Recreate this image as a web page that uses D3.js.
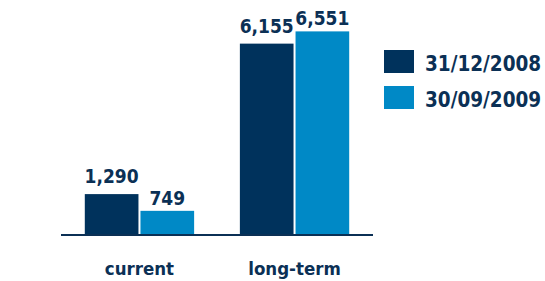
<!DOCTYPE html>
<html>
<head>
<meta charset="utf-8">
<script src="https://cdn.jsdelivr.net/npm/d3@7"></script>
<style>
  body { margin: 0; background: #fff; }
  text { font-family: "DejaVu Sans Condensed", "DejaVu Sans", sans-serif; font-stretch: condensed; font-weight: bold; fill: #0b3055; }
</style>
</head>
<body>
<div id="chart"></div>
<script>
const categories = ['current', 'long-term'];
const seriesNames = ['31/12/2008', '30/09/2009'];
const values2008 = [1290, 6155];
const values2009 = [749, 6551];
const valueLabels2008 = ['1,290', '6,155'];
const valueLabels2009 = ['749', '6,551'];

const width = 545, height = 281;
const colors = ['#00325c', '#0089c6'];
const labelGap = [11, 6];

const svg = d3.select('#chart').append('svg')
    .attr('width', width)
    .attr('height', height);

const x = d3.scaleBand()
    .domain(categories)
    .range([62, 372])
    .paddingInner(0.295)
    .paddingOuter(0.147);

const xs = d3.scaleBand()
    .domain(seriesNames)
    .range([0, x.bandwidth()])
    .paddingInner(0.036);

const y = d3.scaleLinear()
    .domain([0, 7000])
    .range([234, 17.5]);

const rows = categories.map((c, i) => ({
    cat: c,
    vals: [
        {s: seriesNames[0], v: values2008[i], label: valueLabels2008[i], k: 0},
        {s: seriesNames[1], v: values2009[i], label: valueLabels2009[i], k: 1}
    ]
}));

const groups = svg.append('g').selectAll('g')
    .data(rows)
    .enter().append('g')
    .attr('transform', d => 'translate(' + x(d.cat) + ',0)');

groups.selectAll('rect')
    .data(d => d.vals)
    .enter().append('rect')
    .attr('x', d => xs(d.s))
    .attr('y', d => y(d.v))
    .attr('width', xs.bandwidth())
    .attr('height', d => y(0) - y(d.v))
    .style('fill', d => colors[d.k]);

groups.selectAll('text.val')
    .data(d => d.vals)
    .enter().append('text')
    .attr('class', 'val')
    .attr('x', d => xs(d.s) + xs.bandwidth() / 2)
    .attr('y', d => y(d.v) - labelGap[d.k])
    .attr('text-anchor', 'middle')
    .style('font-size', '19px')
    .text(d => d.label);

// baseline
svg.append('line')
    .attr('x1', 61).attr('x2', 373)
    .attr('y1', y(0) + 1).attr('y2', y(0) + 1)
    .style('stroke', '#0b3055')
    .style('stroke-width', 2);

// category labels
svg.append('g').selectAll('text')
    .data(categories)
    .enter().append('text')
    .attr('x', d => x(d) + x.bandwidth() / 2)
    .attr('y', 275)
    .attr('text-anchor', 'middle')
    .style('font-size', '18.5px')
    .text(d => d);

// legend
const legend = svg.append('g').selectAll('g')
    .data(seriesNames)
    .enter().append('g')
    .attr('transform', (d, i) => 'translate(384,' + (50 + i * 36) + ')');

legend.append('rect')
    .attr('width', 30)
    .attr('height', 23)
    .style('fill', (d, i) => colors[i]);

legend.append('text')
    .attr('x', 41)
    .attr('y', 21)
    .style('font-size', '20.5px')
    .text(d => d);
</script>
</body>
</html>
